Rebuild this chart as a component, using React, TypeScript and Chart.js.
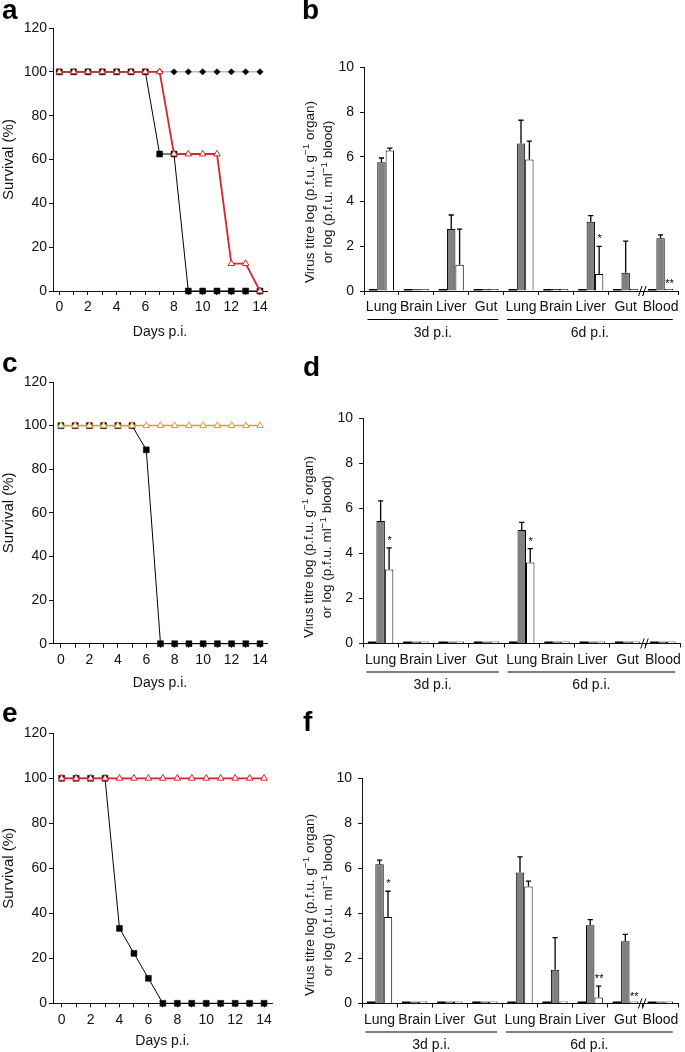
import React, { useEffect, useRef } from 'react';
import { Chart, registerables } from 'chart.js';

Chart.register(...registerables);

const FONT = '"Liberation Sans", Arial, Helvetica, sans-serif';
const INK = '#111';

// ---------- survival data ----------
const DAYS = [0, 1, 2, 3, 4, 5, 6, 7, 8, 9, 10, 11, 12, 13, 14];
const SURVIVAL_Y_TICKS = [0, 20, 40, 60, 80, 100, 120];

const A_MOCK = [100, 100, 100, 100, 100, 100, 100, 100, 100, 100, 100, 100, 100, 100, 100];
const A_BLACK = [100, 100, 100, 100, 100, 100, 100, 62.5, 62.5, 0, 0, 0, 0, 0, 0];
const A_RED = [100, 100, 100, 100, 100, 100, 100, 100, 62.5, 62.5, 62.5, 62.5, 12.5, 12.5, 0];

const C_BLACK = [100, 100, 100, 100, 100, 100, 88.9, 0, 0, 0, 0, 0, 0, 0, 0];
const C_ORANGE = [100, 100, 100, 100, 100, 100, 100, 100, 100, 100, 100, 100, 100, 100, 100];

const E_BLACK = [100, 100, 100, 100, 33.3, 22.2, 11.1, 0, 0, 0, 0, 0, 0, 0, 0];
const E_RED = [100, 100, 100, 100, 100, 100, 100, 100, 100, 100, 100, 100, 100, 100, 100];

// ---------- virus titre data ----------
const ORGANS = ['Lung', 'Brain', 'Liver', 'Gut', 'Lung', 'Brain', 'Liver', 'Gut', 'Blood'];
const TITRE_Y_TICKS = [0, 2, 4, 6, 8, 10];
const GROUPS = [
  { label: '3d p.i.', from: 0, to: 3 },
  { label: '6d p.i.', from: 4, to: 8 },
];
const BREAK_AFTER = 7;

const B_CONTROL = [0, 0, 0, 0, 0, 0, 0, 0, 0];
const B_GREY = [5.76, 0, 2.77, 0, 6.6, 0, 3.1, 0.82, 2.36];
const B_GREY_ERR = [0.19, 0, 0.63, 0, 1.04, 0, 0.27, 1.41, 0.15];
const B_WHITE = [6.29, 0, 1.17, 0, 5.88, 0, 0.76, 0, 0];
const B_WHITE_ERR = [0.1, 0, 1.6, 0, 0.83, 0, 1.24, 0, 0];
const B_WHITE_SIG = ['', '', '', '', '', '', '*', '', '**'];

const D_CONTROL = [0, 0, 0, 0, 0, 0, 0, 0, 0];
const D_GREY = [5.44, 0, 0, 0, 5.04, 0, 0, 0, 0];
const D_GREY_ERR = [0.9, 0, 0, 0, 0.34, 0, 0, 0, 0];
const D_WHITE = [3.29, 0, 0, 0, 3.6, 0, 0, 0, 0];
const D_WHITE_ERR = [0.96, 0, 0, 0, 0.62, 0, 0, 0, 0];
const D_WHITE_SIG = ['*', '', '', '', '*', '', '', '', ''];

const F_CONTROL = [0, 0, 0, 0, 0, 0, 0, 0, 0];
const F_GREY = [6.19, 0, 0, 0, 5.82, 1.5, 3.48, 2.77, 0];
const F_GREY_ERR = [0.18, 0, 0, 0, 0.7, 1.43, 0.25, 0.3, 0];
const F_WHITE = [3.85, 0, 0, 0, 5.2, 0, 0.27, 0, 0];
const F_WHITE_ERR = [1.14, 0, 0, 0, 0.24, 0, 0.5, 0, 0];
const F_WHITE_SIG = ['*', '', '', '', '', '', '**', '**', ''];

// ---------- helpers ----------
const pts = (vals: number[]) => DAYS.map((d, i) => ({ x: d, y: vals[i] }));

const blackSquares = (vals: number[]) => ({
  data: pts(vals),
  borderColor: '#000',
  borderWidth: 1,
  pointStyle: 'rect',
  pointRadius: 4.2,
  pointBackgroundColor: '#000',
  pointBorderColor: '#000',
  pointBorderWidth: 0.5,
  tension: 0,
  clip: false,
});

const openTriangles = (vals: number[], color: string, lw: number) => ({
  data: pts(vals),
  borderColor: color,
  borderWidth: lw,
  pointStyle: 'triangle',
  pointRadius: 3.8,
  pointBackgroundColor: '#fff',
  pointBorderColor: color,
  pointBorderWidth: 1,
  tension: 0,
  clip: false,
});

const mockDiamonds = (vals: number[]) => ({
  data: pts(vals),
  borderColor: '#bdbdbd',
  borderWidth: 1.5,
  pointStyle: 'rectRot',
  pointRadius: 3.2,
  pointBackgroundColor: '#000',
  pointBorderColor: '#000',
  pointBorderWidth: 0.5,
  tension: 0,
  clip: false,
});

function survivalConfig(p: any) {
  return {
    type: 'line',
    data: { datasets: p.datasets },
    options: {
      responsive: false,
      animation: false,
      events: [],
      devicePixelRatio: 1,
      layout: { padding: { top: p.padTop, right: p.padRight, left: 0, bottom: 0 } },
      plugins: { legend: { display: false }, tooltip: { enabled: false } },
      scales: {
        x: {
          type: 'linear',
          min: p.xMin,
          max: p.xMax,
          afterBuildTicks: (s: any) => {
            s.ticks = DAYS.map((v) => ({ value: v }));
          },
          afterFit: (s: any) => {
            s.height = p.xAxisHeight;
          },
          ticks: {
            autoSkip: false,
            maxRotation: 0,
            minRotation: 0,
            padding: 4,
            color: INK,
            font: { family: FONT, size: 14 },
            callback: (v: any) => (Number(v) % 2 === 0 ? String(v) : ''),
          },
          grid: { drawOnChartArea: false, drawTicks: true, tickLength: 4, color: INK, lineWidth: 1 },
          border: { display: true, color: INK, width: 1 },
          title: {
            display: true,
            text: 'Days p.i.',
            color: INK,
            font: { family: FONT, size: 14 },
            padding: { top: 0, bottom: p.titleBottom },
          },
        },
        y: {
          min: 0,
          max: 120,
          afterBuildTicks: (s: any) => {
            s.ticks = SURVIVAL_Y_TICKS.map((v) => ({ value: v }));
          },
          afterFit: (s: any) => {
            s.width = p.yAxisWidth;
          },
          ticks: { padding: 2, color: INK, font: { family: FONT, size: 14 } },
          grid: { drawOnChartArea: false, drawTicks: true, tickLength: 4, color: INK, lineWidth: 1 },
          border: { display: true, color: INK, width: 1 },
          title: {
            display: true,
            text: 'Survival (%)',
            color: INK,
            font: { family: FONT, size: 15 },
            padding: { top: 0, bottom: 0 },
          },
        },
      },
    },
  };
}

const errorBarPlugin = {
  id: 'errorBars',
  afterDatasetsDraw(chart: any) {
    const { ctx } = chart;
    const y = chart.scales.y;
    chart.data.datasets.forEach((ds: any, i: number) => {
      const meta = chart.getDatasetMeta(i);
      meta.data.forEach((bar: any, j: number) => {
        const v = ds.data[j];
        const e = ds.errors ? ds.errors[j] : 0;
        const top = y.getPixelForValue(v + (e || 0));
        ctx.save();
        if (e > 0) {
          const base = y.getPixelForValue(v);
          ctx.strokeStyle = '#000';
          ctx.lineWidth = 1.3;
          ctx.beginPath();
          ctx.moveTo(bar.x, base);
          ctx.lineTo(bar.x, top);
          ctx.moveTo(bar.x - 2.6, top);
          ctx.lineTo(bar.x + 2.6, top);
          ctx.stroke();
        }
        const s = ds.stars ? ds.stars[j] : '';
        if (s) {
          ctx.fillStyle = '#000';
          ctx.font = `11px ${FONT}`;
          ctx.textAlign = 'center';
          ctx.textBaseline = 'alphabetic';
          ctx.fillText(s, bar.x + 0.5, top - 4);
        }
        ctx.restore();
      });
    });
  },
};

const titreDecorPlugin = {
  id: 'titreDecor',
  afterDraw(chart: any) {
    const { ctx } = chart;
    const x = chart.scales.x;
    const y0 = chart.scales.y.getPixelForValue(0);
    const cw = x.getPixelForValue(1) - x.getPixelForValue(0);
    ctx.save();
    // axis break
    const bx = (x.getPixelForValue(BREAK_AFTER) + x.getPixelForValue(BREAK_AFTER + 1)) / 2;
    ctx.strokeStyle = '#000';
    ctx.lineWidth = 1;
    ctx.beginPath();
    ctx.moveTo(bx - 4.5, y0 + 5);
    ctx.lineTo(bx - 1, y0 - 5);
    ctx.moveTo(bx - 0.5, y0 + 5);
    ctx.lineTo(bx + 3, y0 - 5);
    ctx.stroke();
    // group underlines + labels
    GROUPS.forEach((g) => {
      const x1 = x.getPixelForValue(g.from) - 0.4 * cw;
      const x2 = x.getPixelForValue(g.to) + 0.35 * cw;
      ctx.strokeStyle = '#000';
      ctx.lineWidth = 1;
      ctx.beginPath();
      ctx.moveTo(x1, y0 + 28.5);
      ctx.lineTo(x2, y0 + 28.5);
      ctx.stroke();
      ctx.fillStyle = INK;
      ctx.font = `14px ${FONT}`;
      ctx.textAlign = 'center';
      ctx.textBaseline = 'middle';
      ctx.fillText(g.label, (x1 + x2) / 2, y0 + 42);
    });
    ctx.restore();
  },
};

function titreConfig(p: any) {
  return {
    type: 'bar',
    data: {
      labels: ORGANS,
      datasets: [
        { label: 'control', data: p.control, backgroundColor: '#000', borderColor: '#000', borderWidth: 0, minBarLength: 2 },
        { label: 'grey', data: p.grey, errors: p.greyErr, backgroundColor: '#808080', borderColor: '#000', borderWidth: 1, minBarLength: 2 },
        { label: 'white', data: p.white, errors: p.whiteErr, stars: p.whiteSig, backgroundColor: '#fff', borderColor: '#000', borderWidth: 1, minBarLength: 2 },
      ],
    },
    plugins: [errorBarPlugin, titreDecorPlugin],
    options: {
      responsive: false,
      animation: false,
      events: [],
      devicePixelRatio: 1,
      datasets: { bar: { categoryPercentage: 0.72, barPercentage: 1 } },
      layout: { padding: { top: p.padTop, right: p.padRight, left: 0, bottom: 0 } },
      plugins: { legend: { display: false }, tooltip: { enabled: false } },
      scales: {
        x: {
          type: 'category',
          afterFit: (s: any) => {
            s.height = p.xAxisHeight;
          },
          ticks: { autoSkip: false, maxRotation: 0, minRotation: 0, padding: 4, color: INK, font: { family: FONT, size: 14 } },
          grid: { offset: true, drawOnChartArea: false, drawTicks: true, tickLength: 4, color: INK, lineWidth: 1 },
          border: { display: true, color: INK, width: 1 },
        },
        y: {
          min: 0,
          max: 10,
          afterBuildTicks: (s: any) => {
            s.ticks = TITRE_Y_TICKS.map((v) => ({ value: v }));
          },
          afterFit: (s: any) => {
            s.width = p.yAxisWidth;
          },
          ticks: { padding: 6, color: INK, font: { family: FONT, size: 14 } },
          grid: { drawOnChartArea: false, drawTicks: true, tickLength: 4, color: INK, lineWidth: 1 },
          border: { display: true, color: INK, width: 1 },
        },
      },
    },
  };
}

function ChartBox({ left, top, width, height, config }: any) {
  const ref = useRef<HTMLCanvasElement>(null);
  useEffect(() => {
    const chart = new Chart(ref.current as HTMLCanvasElement, config() as any);
    return () => chart.destroy();
  }, []);
  return (
    <canvas
      ref={ref}
      width={width}
      height={height}
      style={{ position: 'absolute', left, top, width, height }}
    />
  );
}

function Letter({ ch, left, baseline }: any) {
  return (
    <div
      style={{
        position: 'absolute',
        left,
        top: baseline - 23.7,
        fontFamily: FONT,
        fontWeight: 'bold',
        fontSize: 28,
        lineHeight: '28px',
        color: '#000',
      }}
    >
      {ch}
    </div>
  );
}

const supStyle: React.CSSProperties = {
  fontSize: '0.72em',
  position: 'relative',
  top: '-0.5em',
  lineHeight: 0,
};

function TitreTitle({ cx, cy }: any) {
  return (
    <div
      style={{
        position: 'absolute',
        left: cx,
        top: cy,
        transform: 'translate(-50%, -50%) rotate(-90deg)',
        whiteSpace: 'nowrap',
        textAlign: 'center',
        fontFamily: FONT,
        fontSize: 13.5,
        lineHeight: '18px',
        color: INK,
      }}
    >
      Virus titre log (p.f.u. g<span style={supStyle}>−1</span> organ)
      <br />
      or log (p.f.u. ml<span style={supStyle}>−1</span> blood)
    </div>
  );
}

export default function App() {
  return (
    <div
      style={{
        position: 'absolute',
        left: 0,
        top: 0,
        width: 685,
        height: 1052,
        background: '#fff',
        overflow: 'hidden',
      }}
    >
      <ChartBox
        left={0}
        top={0}
        width={300}
        height={345}
        config={() =>
          survivalConfig({
            datasets: [openTriangles(A_RED, '#d3262e', 1.8), blackSquares(A_BLACK), mockDiamonds(A_MOCK)],
            xMin: -0.44,
            xMax: 14.49,
            yAxisWidth: 53,
            xAxisHeight: 54,
            padTop: 28,
            padRight: 33,
            titleBottom: 4.5,
          })
        }
      />
      <ChartBox
        left={0}
        top={345}
        width={300}
        height={355}
        config={() =>
          survivalConfig({
            datasets: [openTriangles(C_ORANGE, '#ea9434', 1.5), blackSquares(C_BLACK)],
            xMin: -0.56,
            xMax: 14.49,
            yAxisWidth: 53,
            xAxisHeight: 56.3,
            padTop: 37,
            padRight: 33,
            titleBottom: 8.6,
          })
        }
      />
      <ChartBox
        left={0}
        top={700}
        width={300}
        height={352}
        config={() =>
          survivalConfig({
            datasets: [openTriangles(E_RED, '#d3262e', 1.8), blackSquares(E_BLACK)],
            xMin: -0.6,
            xMax: 14.55,
            yAxisWidth: 53,
            xAxisHeight: 48.7,
            padTop: 33.3,
            padRight: 28,
            titleBottom: 2,
          })
        }
      />
      <ChartBox
        left={300}
        top={0}
        width={385}
        height={345}
        config={() =>
          titreConfig({
            control: B_CONTROL,
            grey: B_GREY,
            greyErr: B_GREY_ERR,
            white: B_WHITE,
            whiteErr: B_WHITE_ERR,
            whiteSig: B_WHITE_SIG,
            yAxisWidth: 64,
            xAxisHeight: 54,
            padTop: 67.5,
            padRight: 7,
          })
        }
      />
      <ChartBox
        left={300}
        top={345}
        width={385}
        height={355}
        config={() =>
          titreConfig({
            control: D_CONTROL,
            grey: D_GREY,
            greyErr: D_GREY_ERR,
            white: D_WHITE,
            whiteErr: D_WHITE_ERR,
            whiteSig: D_WHITE_SIG,
            yAxisWidth: 63,
            xAxisHeight: 56.5,
            padTop: 73.5,
            padRight: 4,
          })
        }
      />
      <ChartBox
        left={300}
        top={700}
        width={385}
        height={352}
        config={() =>
          titreConfig({
            control: F_CONTROL,
            grey: F_GREY,
            greyErr: F_GREY_ERR,
            white: F_WHITE,
            whiteErr: F_WHITE_ERR,
            whiteSig: F_WHITE_SIG,
            yAxisWidth: 62,
            xAxisHeight: 48.5,
            padTop: 78.5,
            padRight: 7,
          })
        }
      />
      <TitreTitle cx={319} cy={192} />
      <TitreTitle cx={318} cy={546.5} />
      <TitreTitle cx={318.5} cy={905} />
      <Letter ch="a" left={2} baseline={20} />
      <Letter ch="b" left={302} baseline={20} />
      <Letter ch="c" left={2} baseline={373} />
      <Letter ch="d" left={303} baseline={377} />
      <Letter ch="e" left={2} baseline={723} />
      <Letter ch="f" left={303} baseline={732} />
    </div>
  );
}
